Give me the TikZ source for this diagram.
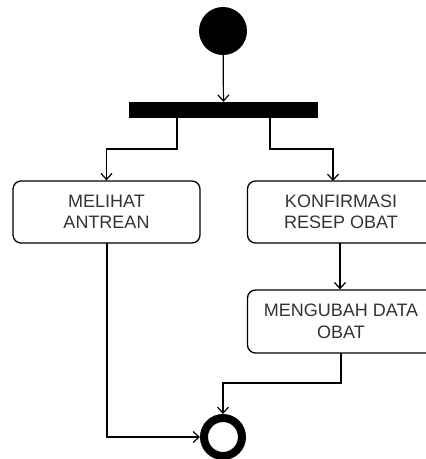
\documentclass[tikz,border=0pt]{standalone}
\usepackage{fontspec}
\setmainfont{Liberation Sans}
\usetikzlibrary{arrows.meta}
\begin{document}
\begin{tikzpicture}[x=1pt,y=-1pt,
  conn/.style={line width=1.2pt,-{Straight Barb[length=6pt,width=11pt,line width=1.2pt]}},
  act/.style={draw,line width=1.3pt,rounded corners=8pt,minimum width=187pt,minimum height=62pt,inner sep=0pt,
    align=center,text=black!80,font=\fontsize{18pt}{21.5pt}\selectfont},
]
\useasboundingbox (0,0) rectangle (426,459);
\node[circle,fill=black,minimum size=48pt,inner sep=0pt] (start) at (223,31) {};
\node[rectangle,fill=black,minimum width=189pt,minimum height=16pt,inner sep=0pt] (bar) at (223.5,110) {};
\node[act] (melihat) at (106.5,212) {MELIHAT\\ANTREAN};
\node[act] (konf) at (341,212) {KONFIRMASI\\RESEP OBAT};
\node[act,minimum height=63pt] (ubah) at (341,321.5) {MENGUBAH DATA\\OBAT};
\node[circle,draw=black,line width=8pt,minimum size=38pt,inner sep=0pt] (end) at (223,437) {};
\coordinate (bl) at (177,118);
\coordinate (br) at (270,118);
\coordinate (ml) at (107,243);
\coordinate (kb) at (340,243);
\coordinate (kt) at (333,181);
\coordinate (ub) at (341,353);
\draw[conn] (start) -- (bar);
\draw[conn] (bl) -- (177,149) -| (melihat.north);
\draw[conn] (br) -- (270,149) -| (kt);
\draw[conn] (kb) -- (kb |- ubah.north);
\draw[conn] (ml) |- (end.west);
\draw[conn] (ub) -- (341,383) -| (end.north);
\end{tikzpicture}
\end{document}
